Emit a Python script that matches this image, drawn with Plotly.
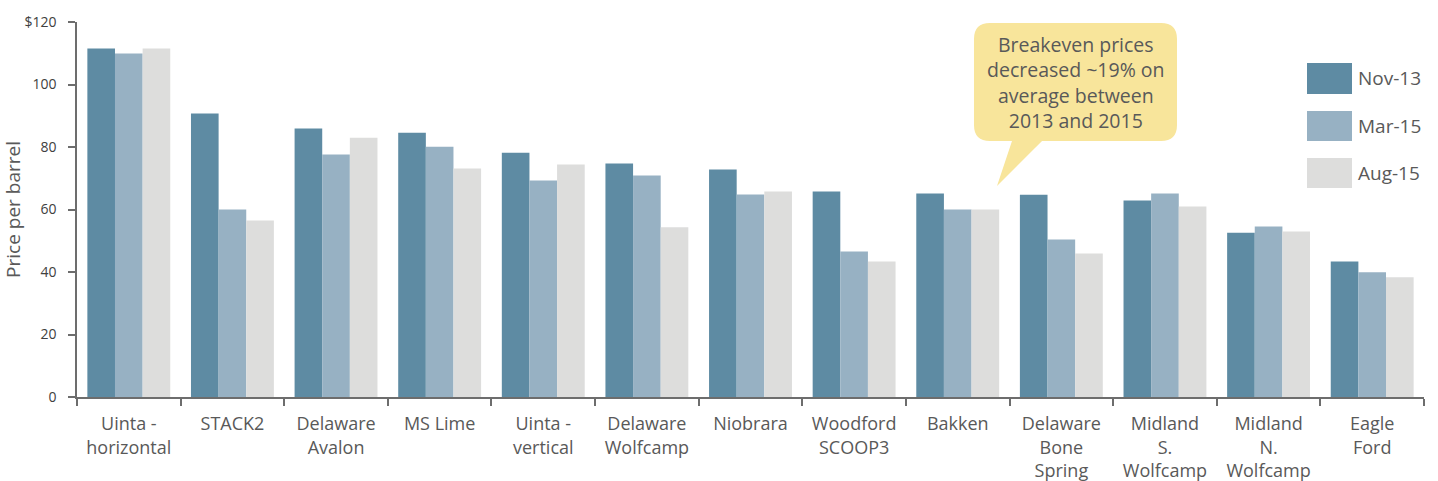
import plotly.graph_objects as go

# ---- data ----
categories = ["Uinta -<br>horizontal", "STACK2", "Delaware<br>Avalon", "MS Lime",
              "Uinta -<br>vertical", "Delaware<br>Wolfcamp", "Niobrara",
              "Woodford<br>SCOOP3", "Bakken", "Delaware<br>Bone<br>Spring",
              "Midland<br>S.<br>Wolfcamp", "Midland<br>N.<br>Wolfcamp", "Eagle<br>Ford"]
nov13 = [111.5, 90.7, 85.9, 84.6, 78.2, 74.7, 72.8, 65.8, 65.1, 64.7, 62.9, 52.6, 43.4]
mar15 = [109.9, 60.0, 77.6, 80.1, 69.3, 70.9, 64.8, 46.6, 60.0, 50.4, 65.1, 54.6, 39.9]
aug15 = [111.5, 56.5, 83.0, 73.1, 74.4, 54.3, 65.8, 43.4, 60.0, 45.9, 61.0, 53.0, 38.3]
series_names = ["Nov-13", "Mar-15", "Aug-15"]
ytick_vals = [0, 20, 40, 60, 80, 100, 120]
ytick_text = ["0", "20", "40", "60", "80", "100", "$120"]
callout_text = "Breakeven prices<br>decreased ~19% on<br>average between<br>2013 and 2015"

colors = ["#5e8ba3", "#97b1c3", "#dddddc"]
FONT = "Open Sans"
TXT = "#595959"

W, H = 1438, 481
ML, MR, MT, MB = 77, 14, 22, 84
PW, PH = W - ML - MR, H - MT - MB


def px(x):
    return (x - ML) / PW


def py(y):
    return (H - MB - y) / PH


fig = go.Figure()
for name, vals, c in zip(series_names, [nov13, mar15, aug15], colors):
    fig.add_trace(go.Bar(x=categories, y=vals, name=name, marker=dict(color=c, line=dict(width=0)),
                         showlegend=False))

shapes = []
annotations = []

# callout bubble
L, R, T, B, r = 974, 1177, 23, 141, 16
pts = [
    ("M", L + r, T), ("L", R - r, T), ("Q", R, T, R, T + r), ("L", R, B - r),
    ("Q", R, B, R - r, B), ("L", 1042, B), ("L", 997, 186), ("L", 1012, B),
    ("L", L + r, B), ("Q", L, B, L, B - r), ("L", L, T + r), ("Q", L, T, L + r, T),
]
path = ""
for p in pts:
    if p[0] == "Q":
        path += f"Q{px(p[1]):.5f},{py(p[2]):.5f} {px(p[3]):.5f},{py(p[4]):.5f} "
    else:
        path += f"{p[0]}{px(p[1]):.5f},{py(p[2]):.5f} "
path += "Z"
shapes.append(dict(type="path", xref="paper", yref="paper", path=path,
                   fillcolor="#f8e59b", line=dict(width=0), layer="above"))
annotations.append(dict(xref="paper", yref="paper", x=px(1075.5), y=py(82),
                        text=callout_text, showarrow=False, xanchor="center", yanchor="middle",
                        align="center", font=dict(family=FONT, size=19.5, color=TXT)))

# legend (custom swatches)
leg_y = [(63, 94), (111, 141), (158, 188)]
for name, c, (y0, y1) in zip(series_names, colors, leg_y):
    shapes.append(dict(type="rect", xref="paper", yref="paper", x0=px(1307), x1=px(1352),
                       y0=py(y1), y1=py(y0), fillcolor=c, line=dict(width=0)))
    annotations.append(dict(xref="paper", yref="paper", x=px(1356), y=py((y0 + y1) / 2),
                            text=name, showarrow=False, xanchor="left", yanchor="middle",
                            font=dict(family=FONT, size=19, color=TXT)))

fig.update_layout(
    width=W, height=H,
    margin=dict(l=ML, r=MR, t=MT, b=MB, autoexpand=False),
    barmode="group", bargap=0.2, bargroupgap=0,
    plot_bgcolor="white", paper_bgcolor="white",
    font=dict(family=FONT, color=TXT),
    shapes=shapes, annotations=annotations,
    xaxis=dict(type="category", showgrid=False, showline=True, linecolor="#6d6d6d", linewidth=1.5,
               ticks="outside", tickson="boundaries", ticklen=7, tickcolor="#6d6d6d", tickwidth=1.5,
               tickfont=dict(family=FONT, size=18, color=TXT), automargin=False,
               ticklabelstandoff=10),
    yaxis=dict(range=[0, 120], showgrid=False, zeroline=False, showline=True, linecolor="#6d6d6d",
               linewidth=1.5, ticks="outside", ticklen=7, tickcolor="#6d6d6d", tickwidth=1.5,
               tickvals=ytick_vals, ticktext=ytick_text, ticklabelstandoff=9,
               tickfont=dict(family=FONT, size=14, color="#404040"), automargin=False,
               title=dict(text="Price per barrel", font=dict(family=FONT, size=19, color=TXT),
                          standoff=9)),
)

fig.write_html("out.html")
